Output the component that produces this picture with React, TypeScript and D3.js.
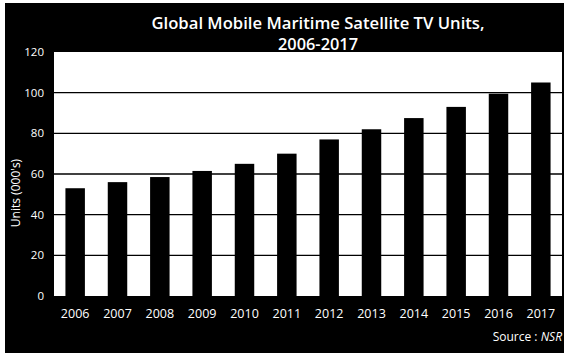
import React from "react";
import * as d3 from "d3";

const years = ["2006","2007","2008","2009","2010","2011","2012","2013","2014","2015","2016","2017"];
const units = [53, 56, 58.5, 61.5, 65, 70, 77, 82, 87.5, 93, 99.5, 105];
const yTicks = [0, 20, 40, 60, 80, 100, 120];
const titleLines = ["Global Mobile Maritime Satellite TV Units,", "2006-2017"];
const yTitle = "Units (000's)";

const W = 564, H = 353;
const plot = { left: 54, right: 562, top: 52, bottom: 296 };

export default function App() {
  const x = d3.scaleBand<string>().domain(years).range([plot.left, plot.right]).paddingInner(0.54).paddingOuter(0.27);
  const y = d3.scaleLinear().domain([0, 120]).range([plot.bottom, plot.top]);
  const font = "'Open Sans', 'Noto Sans', sans-serif";
  const titleWidths = [333, 80];
  return (
    <svg width={W} height={H} style={{ position: "absolute", left: 0, top: 0 }} fontFamily={font}>
      <rect x={0} y={0} width={W} height={H} fill="#fff" />
      <rect x={5} y={3} width={W - 5} height={H - 3} fill="#000" />
      <rect x={plot.left} y={plot.top} width={plot.right - plot.left} height={plot.bottom - plot.top} fill="#fff" />
      {yTicks.filter(t => t > 0 && t < 120).map(t => (
        <line key={t} x1={plot.left} x2={plot.right} y1={y(t)} y2={y(t)} stroke="#000" strokeWidth={1.3} />
      ))}
      {years.map((yr, i) => (
        <rect key={yr} x={x(yr)} y={y(units[i])} width={x.bandwidth()} height={y(0) - y(units[i])} fill="#000" />
      ))}
      {titleLines.map((t, i) => (
        <text key={i} x={318} y={29 + i * 21} textAnchor="middle" fill="#fff" fontSize={17} fontWeight={600}
          textLength={titleWidths[i]} lengthAdjust="spacingAndGlyphs">{t}</text>
      ))}
      {yTicks.map(t => (
        <text key={t} x={44} y={y(t)} dy="0.35em" textAnchor="end" fill="#fff" fontSize={11.5}>{t}</text>
      ))}
      <text transform={`translate(20,193) rotate(-90)`} textAnchor="middle" fill="#fff" fontSize={12}>{yTitle}</text>
      {years.map(yr => (
        <text key={yr} x={(x(yr) as number) + x.bandwidth() / 2} y={318} textAnchor="middle" fill="#fff" fontSize={12.5}>{yr}</text>
      ))}
      <text x={562} y={341} textAnchor="end" fill="#fff" fontSize={12}>
        Source : <tspan fontStyle="italic">NSR</tspan>
      </text>
    </svg>
  );
}
